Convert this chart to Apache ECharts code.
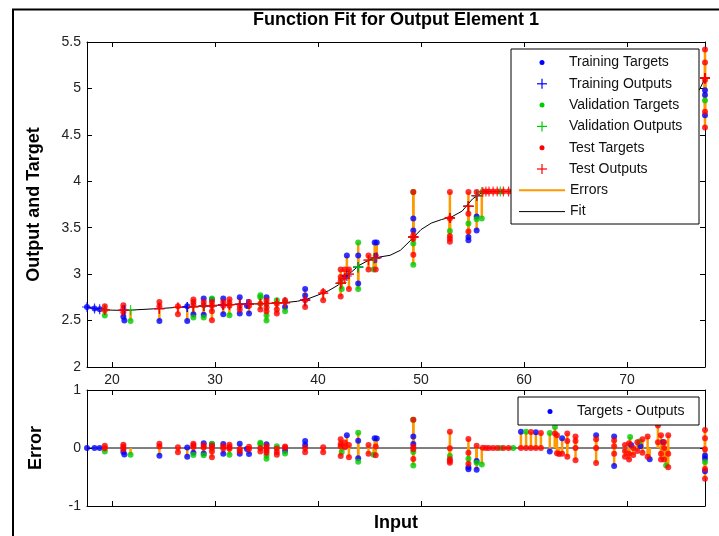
<!DOCTYPE html>
<html><head><meta charset="utf-8">
<script src="https://cdn.jsdelivr.net/npm/echarts@6/dist/echarts.min.js"></script>
<style>html,body{margin:0;padding:0;background:#fff}#c{width:719px;height:536px}</style>
</head><body><div id="c"></div>
<script>
// ---------- data ----------
const xTicks = [20, 30, 40, 50, 60, 70];

const fitX = [17.57, 18, 19, 20, 21, 22, 23, 24, 25, 26, 27, 28, 29, 30, 31, 32, 33, 34, 35, 36, 37, 38, 39, 40, 41, 42, 43, 44, 45, 46, 47, 48, 49, 50, 51, 52, 53, 54, 55, 56, 57, 58, 59, 60, 61, 62, 63, 64, 65, 66, 67, 68, 69, 70, 71, 72, 73, 74, 75, 76, 77, 77.57];
const fitY = [2.646, 2.637, 2.62, 2.612, 2.61, 2.614, 2.62, 2.626, 2.632, 2.64, 2.646, 2.652, 2.657, 2.664, 2.67, 2.674, 2.678, 2.68, 2.684, 2.69, 2.696, 2.708, 2.733, 2.775, 2.82, 2.885, 3.0, 3.095, 3.155, 3.185, 3.203, 3.257, 3.365, 3.48, 3.55, 3.588, 3.618, 3.68, 3.81, 3.885, 3.89, 3.89, 3.89, 3.89, 3.9, 3.92, 3.95, 4.0, 4.05, 4.12, 4.2, 4.29, 4.39, 4.5, 4.6, 4.68, 4.76, 4.83, 4.88, 4.93, 4.98, 5.11];

const trainX = [17.57, 18.3, 18.8, 21.1, 21.2, 24.6, 27.3, 27.3, 27.9, 28.9, 28.9, 29.7, 30.8, 30.8, 32.4, 32.4, 33.1, 33.3, 35.0, 36.8, 38.75, 38.75, 42.8, 43.9, 43.9, 45.5, 45.7, 49.25, 49.25, 54.6, 54.6, 55.4, 55.4, 59.7, 61.15, 62.5, 63.7, 67.0, 68.75, 68.75, 70.4, 71.3, 72.2, 73.5, 77.57, 77.57, 77.57];
const trainT = [2.646, 2.63, 2.622, 2.54, 2.50, 2.495, 2.654, 2.495, 2.568, 2.737, 2.564, 2.726, 2.737, 2.568, 2.75, 2.575, 2.66, 2.575, 2.75, 2.646, 2.84, 2.77, 3.20, 3.20, 2.90, 3.34, 3.34, 3.60, 3.47, 3.40, 3.365, 3.62, 3.47, 4.17, 4.17, 3.875, 4.15, 4.42, 4.575, 4.065, 4.59, 4.66, 4.5, 4.9, 4.98, 4.93, 4.71];
const trainY = [2.646, 2.63, 2.622, 2.61, 2.61, 2.628, 2.647, 2.647, 2.651, 2.657, 2.657, 2.662, 2.668, 2.668, 2.676, 2.676, 2.678, 2.678, 2.684, 2.694, 2.72, 2.72, 2.98, 3.075, 3.075, 3.17, 3.178, 3.40, 3.40, 3.73, 3.73, 3.845, 3.845, 3.89, 3.9, 3.935, 3.98, 4.2, 4.375, 4.375, 4.54, 4.63, 4.695, 4.795, 5.11, 5.11, 5.11];

const valX = [19.3, 21.8, 27.9, 28.9, 29.7, 31.4, 34.4, 34.4, 35.0, 35.0, 36.0, 36.8, 42.3, 43.9, 43.9, 45.4, 49.25, 49.25, 49.25, 52.8, 54.6, 55.4, 55.9, 57.7, 58.95, 60.2, 62.5, 63.0, 70.3, 71.2, 73.8, 77.57];
const valT = [2.555, 2.495, 2.532, 2.532, 2.737, 2.556, 2.773, 2.75, 2.556, 2.50, 2.72, 2.60, 2.84, 3.34, 2.84, 3.05, 3.885, 3.33, 3.10, 3.465, 3.545, 3.59, 3.60, 3.89, 3.89, 4.17, 4.195, 4.31, 4.71, 4.70, 4.515, 4.87];
const valY = [2.616, 2.613, 2.651, 2.657, 2.662, 2.672, 2.681, 2.681, 2.684, 2.684, 2.69, 2.694, 2.91, 3.075, 3.075, 3.168, 3.40, 3.40, 3.40, 3.605, 3.73, 3.845, 3.885, 3.89, 3.89, 3.89, 3.935, 3.95, 4.52, 4.59, 4.815, 5.11];

const testX = [19.3, 19.3, 21.1, 21.1, 21.1, 24.6, 24.6, 26.4, 26.4, 27.9, 27.9, 27.9, 28.9, 28.9, 29.7, 29.7, 29.7, 29.7, 30.8, 30.8, 31.4, 31.4, 31.4, 32.4, 32.4, 33.3, 33.3, 34.4, 34.4, 35.0, 35.0, 35.0, 35.0, 36.0, 36.0, 36.0, 36.8, 36.8, 38.75, 38.75, 40.5, 40.5, 42.2, 42.2, 42.2, 42.2, 42.6, 42.6, 43.0, 43.0, 44.9, 44.9, 45.6, 45.6, 49.25, 49.25, 49.25, 49.25, 52.8, 52.8, 52.8, 52.8, 52.8, 54.6, 54.6, 54.6, 55.4, 56.0, 56.3, 56.6, 57.0, 57.4, 58.0, 58.5, 59.7, 60.2, 60.67, 60.67, 61.15, 61.64, 61.64, 63.0, 63.2, 63.2, 63.4, 63.7, 64.2, 64.2, 64.2, 65.0, 65.0, 65.0, 65.0, 67.0, 67.0, 67.0, 68.75, 68.75, 68.75, 69.8, 69.8, 69.8, 70.2, 70.2, 70.2, 70.6, 70.6, 71.0, 71.0, 71.5, 71.5, 72.0, 72.0, 73.0, 73.0, 73.3, 73.3, 73.3, 73.6, 73.6, 73.6, 74.0, 74.0, 74.0, 77.57, 77.57, 77.57, 77.57, 77.57];
const testT = [2.654, 2.61, 2.665, 2.63, 2.59, 2.70, 2.654, 2.654, 2.568, 2.726, 2.70, 2.67, 2.70, 2.664, 2.70, 2.66, 2.60, 2.503, 2.70, 2.66, 2.73, 2.69, 2.66, 2.66, 2.62, 2.70, 2.66, 2.68, 2.62, 2.72, 2.68, 2.64, 2.60, 2.68, 2.62, 2.575, 2.72, 2.70, 2.72, 2.646, 2.81, 2.72, 3.05, 2.97, 2.93, 2.76, 3.05, 2.97, 3.05, 2.84, 3.20, 3.05, 3.20, 3.05, 3.885, 3.42, 3.38, 3.21, 3.885, 3.60, 3.41, 3.38, 3.35, 3.885, 3.65, 3.46, 3.885, 3.89, 3.89, 3.89, 3.89, 3.89, 3.89, 3.89, 3.89, 3.89, 4.17, 3.895, 3.9, 4.17, 3.91, 4.2, 4.18, 3.87, 3.86, 3.88, 4.25, 4.12, 3.85, 4.25, 4.17, 4.05, 3.84, 4.35, 4.2, 3.94, 4.505, 4.405, 4.275, 4.53, 4.43, 4.33, 4.60, 4.42, 4.32, 4.56, 4.44, 4.70, 4.55, 4.79, 4.56, 4.88, 4.53, 5.15, 4.86, 5.0, 4.68, 4.58, 4.90, 4.80, 4.60, 5.05, 4.73, 4.50, 5.42, 5.28, 5.09, 4.75, 4.58];
const testY = [2.616, 2.616, 2.61, 2.61, 2.61, 2.628, 2.628, 2.642, 2.642, 2.651, 2.651, 2.651, 2.657, 2.657, 2.662, 2.662, 2.662, 2.662, 2.668, 2.668, 2.672, 2.672, 2.672, 2.676, 2.676, 2.678, 2.678, 2.681, 2.681, 2.684, 2.684, 2.684, 2.684, 2.69, 2.69, 2.69, 2.694, 2.694, 2.72, 2.72, 2.795, 2.795, 2.90, 2.90, 2.90, 2.90, 2.955, 2.955, 3.0, 3.0, 3.15, 3.15, 3.175, 3.175, 3.40, 3.40, 3.40, 3.40, 3.605, 3.605, 3.605, 3.605, 3.605, 3.73, 3.73, 3.73, 3.845, 3.885, 3.89, 3.89, 3.89, 3.89, 3.89, 3.89, 3.89, 3.89, 3.895, 3.895, 3.9, 3.91, 3.91, 3.95, 3.96, 3.96, 3.965, 3.98, 4.0, 4.0, 4.0, 4.05, 4.05, 4.05, 4.05, 4.2, 4.2, 4.2, 4.375, 4.375, 4.375, 4.48, 4.48, 4.48, 4.52, 4.52, 4.52, 4.56, 4.56, 4.6, 4.6, 4.64, 4.64, 4.68, 4.68, 4.76, 4.76, 4.78, 4.78, 4.78, 4.80, 4.80, 4.80, 4.83, 4.83, 4.83, 5.11, 5.11, 5.11, 5.11, 5.11];

const legendLabels = ['Training Targets', 'Training Outputs', 'Validation Targets', 'Validation Outputs', 'Test Targets', 'Test Outputs', 'Errors', 'Fit'];
const errLegendLabel = 'Targets - Outputs';

// ---------- styling ----------
const FONT = '"Liberation Sans", Arial, Helvetica, sans-serif';
const BLUE = '#0000ff', GREEN = '#00cc00', RED = '#ff0000', ORANGE = '#ff9900';
const PLUS = 'path://M4.4,0H5.6V4.4H10V5.6H5.6V10H4.4V5.6H0V4.4H4.4Z';

const pts = (xs, ys) => xs.map((x, i) => [x, ys[i]]);
const segs = (xs, ts, ys) => xs.map((x, i) => [x, ts[i], ys[i]]);
const errs = (xs, ts, ys) => xs.map((x, i) => [x, ts[i] - ys[i]]);
const stems = (xs, ts, ys) => xs.map((x, i) => [x, 0, ts[i] - ys[i]]);

function segRender(params, api) {
  const a = api.coord([api.value(0), api.value(1)]);
  const b = api.coord([api.value(0), api.value(2)]);
  return { type: 'line', shape: { x1: a[0], y1: a[1], x2: b[0], y2: b[1] },
           style: { stroke: ORANGE, lineWidth: 2.5 } };
}

const L = 87, R = 705, T1 = 42, B1 = 367, T2 = 390, B2 = 506;

function xAx(grid, pos, showLabels, extra) {
  return Object.assign({
    gridIndex: grid, type: 'value', min: 17.57, max: 77.57, position: pos,
    axisLine: { show: true, onZero: false, lineStyle: { color: '#000', width: 1 } },
    axisTick: { show: true, inside: true, length: 5, customValues: xTicks, lineStyle: { color: '#000' } },
    axisLabel: { show: showLabels, customValues: xTicks, fontSize: 14, color: '#222', margin: 6, fontFamily: FONT },
    splitLine: { show: false }
  }, extra || {});
}
function yAx(grid, pos, min, max, interval, showLabels, extra) {
  return Object.assign({
    gridIndex: grid, type: 'value', min: min, max: max, interval: interval, position: pos,
    axisLine: { show: true, onZero: false, lineStyle: { color: '#000', width: 1 } },
    axisTick: { show: true, inside: true, length: 5, lineStyle: { color: '#000' } },
    axisLabel: { show: showLabels, fontSize: 14, color: '#222', margin: 6, fontFamily: FONT },
    splitLine: { show: false }
  }, extra || {});
}
const nameStyle = { fontSize: 18, fontWeight: 'bold', color: '#000', fontFamily: FONT };

const series = [];
// main plot: errors
[[trainX, trainT, trainY], [valX, valT, valY], [testX, testT, testY]].forEach(s => {
  series.push({ type: 'custom', xAxisIndex: 0, yAxisIndex: 0, renderItem: segRender,
    encode: { x: 0, y: [1, 2] }, data: segs(s[0], s[1], s[2]), z: 1, silent: true });
});
series.push({ type: 'line', name: 'Fit', xAxisIndex: 0, yAxisIndex: 0, data: pts(fitX, fitY),
  showSymbol: false, lineStyle: { color: '#000', width: 1 }, z: 2, silent: true });
const sets = [[trainX, trainT, trainY, BLUE], [valX, valT, valY, GREEN], [testX, testT, testY, RED]];
sets.forEach(s => {
  series.push({ type: 'scatter', xAxisIndex: 0, yAxisIndex: 0, data: pts(s[0], s[1]),
    symbol: 'circle', symbolSize: 6, itemStyle: { color: s[3] }, z: 3, silent: true });
});
sets.forEach(s => {
  series.push({ type: 'scatter', xAxisIndex: 0, yAxisIndex: 0, data: pts(s[0], s[2]),
    symbol: PLUS, symbolSize: 10, itemStyle: { color: s[3] }, z: 4, silent: true });
});
// error plot
series.push({ type: 'line', xAxisIndex: 2, yAxisIndex: 2, data: [[17.57, 0], [77.57, 0]],
  showSymbol: false, lineStyle: { color: '#000', width: 1 }, z: 1, silent: true });
sets.forEach(s => {
  series.push({ type: 'custom', xAxisIndex: 2, yAxisIndex: 2, renderItem: segRender,
    encode: { x: 0, y: [1, 2] }, data: stems(s[0], s[1], s[2]), z: 2, silent: true });
});
sets.forEach(s => {
  series.push({ type: 'scatter', xAxisIndex: 2, yAxisIndex: 2, data: errs(s[0], s[1], s[2]),
    symbol: 'circle', symbolSize: 6, itemStyle: { color: s[3] }, z: 3, silent: true });
});

// legend drawn as graphic
const lg = [];
const lgX = 511, lgY = 49, rowH = 21.3, row0 = 62.5, symX = 542, txtX = 569;
lg.push({ type: 'rect', shape: { x: lgX, y: lgY, width: 188, height: 175 },
  style: { fill: '#fff', stroke: '#000', lineWidth: 1 }, z: 100 });
const lgColors = [BLUE, BLUE, GREEN, GREEN, RED, RED];
legendLabels.forEach((lab, i) => {
  const cy = row0 + i * rowH;
  if (i < 6) {
    if (i % 2 === 0) {
      lg.push({ type: 'circle', shape: { cx: symX, cy: cy, r: 2.5 }, style: { fill: lgColors[i] }, z: 101 });
    } else {
      lg.push({ type: 'line', shape: { x1: symX - 5, y1: cy, x2: symX + 5, y2: cy }, style: { stroke: lgColors[i], lineWidth: 1.2 }, z: 101 });
      lg.push({ type: 'line', shape: { x1: symX, y1: cy - 5, x2: symX, y2: cy + 5 }, style: { stroke: lgColors[i], lineWidth: 1.2 }, z: 101 });
    }
  } else if (i === 6) {
    lg.push({ type: 'line', shape: { x1: 519, y1: cy, x2: 565, y2: cy }, style: { stroke: ORANGE, lineWidth: 2 }, z: 101 });
  } else {
    lg.push({ type: 'line', shape: { x1: 519, y1: cy, x2: 565, y2: cy }, style: { stroke: '#000', lineWidth: 1 }, z: 101 });
  }
  lg.push({ type: 'text', x: (i >= 6 ? 570 : txtX), y: cy, style: { text: lab, fill: '#111', font: '14px ' + FONT, textVerticalAlign: 'middle', textAlign: 'left' }, z: 101 });
});
lg.push({ type: 'rect', shape: { x: 518, y: 397, width: 181, height: 28 },
  style: { fill: '#fff', stroke: '#000', lineWidth: 1 }, z: 100 });
lg.push({ type: 'circle', shape: { cx: 550, cy: 411.5, r: 2.5 }, style: { fill: BLUE }, z: 101 });
lg.push({ type: 'text', x: 577, y: 411.5, style: { text: errLegendLabel, fill: '#111', font: '14px ' + FONT, textVerticalAlign: 'middle', textAlign: 'left' }, z: 101 });
// frame and title
lg.push({ type: 'rect', shape: { x: 13, y: 9.5, width: 760, height: 600 },
  style: { fill: 'none', stroke: '#000', lineWidth: 2 }, z: 50, silent: true });
lg.push({ type: 'text', x: 396, y: 20, style: { text: 'Function Fit for Output Element 1', fill: '#000',
  font: 'bold 18px ' + FONT, textAlign: 'center', textVerticalAlign: 'middle' }, z: 101 });

const chart = echarts.init(document.getElementById('c'), null, { renderer: 'canvas' });
chart.setOption({
  animation: false,
  backgroundColor: '#fff',
  grid: [
    { left: L, top: T1, width: R - L, height: B1 - T1 },
    { left: L, top: T2, width: R - L, height: B2 - T2 }
  ],
  xAxis: [
    xAx(0, 'bottom', true),
    xAx(0, 'top', false),
    xAx(1, 'bottom', false, { name: 'Input', nameLocation: 'middle', nameGap: 8, nameTextStyle: Object.assign({ verticalAlign: 'top' }, nameStyle) }),
    xAx(1, 'top', false)
  ],
  yAxis: [
    yAx(0, 'left', 2, 5.5, 0.5, true, { name: 'Output and Target', nameLocation: 'middle', nameGap: 44, nameTextStyle: nameStyle }),
    yAx(0, 'right', 2, 5.5, 0.5, false),
    yAx(1, 'left', -1, 1, 1, true, { name: 'Error', nameLocation: 'middle', nameGap: 42, nameTextStyle: nameStyle }),
    yAx(1, 'right', -1, 1, 1, false)
  ],
  series: series,
  graphic: { elements: lg }
});
</script>
</body></html>
